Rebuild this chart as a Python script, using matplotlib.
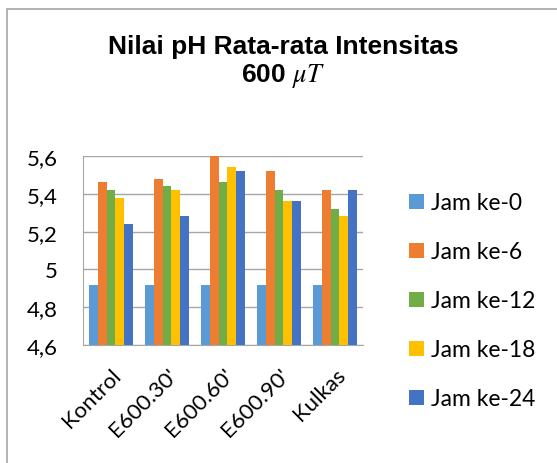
import matplotlib.pyplot as plt
import numpy as np
from matplotlib.patches import Rectangle
from matplotlib.ticker import FuncFormatter, MultipleLocator

categories = ["Kontrol", "E600.30'", "E600.60'", "E600.90'", "Kulkas"]
series_names = ["Jam ke-0", "Jam ke-6", "Jam ke-12", "Jam ke-18", "Jam ke-24"]
jam_0 = [4.92, 4.92, 4.92, 4.92, 4.92]
jam_6 = [5.46, 5.48, 5.60, 5.52, 5.42]
jam_12 = [5.42, 5.44, 5.46, 5.42, 5.32]
jam_18 = [5.38, 5.42, 5.54, 5.36, 5.28]
jam_24 = [5.24, 5.28, 5.52, 5.36, 5.42]

COLORS = ["#5B9BD5", "#ED7D31", "#70AD47", "#FFC000", "#4472C4"]
FONT = "Lato"
plt.rcParams["mathtext.fontset"] = "stix"

fig = plt.figure(figsize=(5.57, 4.64), dpi=100)
W, H = 557, 464
ax = fig.add_axes([83 / W, 1 - 346 / H, 280 / W, 189 / H])

# chart area frame (only top/left visible in the crop)
fig.patches.append(Rectangle((6.5 / W, -0.1), 1.2, 1 - 9.5 / H + 0.1,
                             transform=fig.transFigure, fill=False,
                             edgecolor="#A6A6A6", linewidth=1.2))

x = np.arange(len(categories))
width = 0.155
all_series = [jam_0, jam_6, jam_12, jam_18, jam_24]
for i, (vals, name) in enumerate(zip(all_series, series_names)):
    ax.bar(x + (i - 2) * width, vals, width, bottom=0, color=COLORS[i],
           label=name, zorder=3)

ax.set_xlim(-0.5, len(categories) - 0.5)
ax.set_ylim(4.6, 5.6)
ax.yaxis.set_major_locator(MultipleLocator(0.2))
ax.yaxis.set_major_formatter(FuncFormatter(lambda v, p: ("%g" % round(v, 2)).replace(".", ",")))
ax.grid(axis="y", color="#A6A6A6", linewidth=1.0, zorder=0)
ax.tick_params(axis="y", length=0, pad=18, labelsize=16)
ax.tick_params(axis="x", length=0, pad=14)
for lbl in ax.get_yticklabels():
    lbl.set_fontfamily(FONT)

ax.set_xticks(x)
ax.set_xticklabels(categories, rotation=45, ha="right", va="top",
                   rotation_mode="anchor", fontsize=16, fontfamily=FONT)

for side in ["top", "right"]:
    ax.spines[side].set_visible(False)
ax.spines["left"].set_color("#A6A6A6")
ax.spines["bottom"].set_color("#A6A6A6")

fig.text(283 / W, 1 - 47 / H, "Nilai pH Rata-rata Intensitas", ha="center", va="center",
         fontsize=19, fontweight="bold", fontfamily="Liberation Sans")
fig.text(283 / W, 1 - 76 / H, r"600 $\mu T$", ha="center", va="center",
         fontsize=19, fontweight="bold", fontfamily="Liberation Sans")

fig.legend(loc="upper left", bbox_to_anchor=(398 / W, 1 - 182 / H), frameon=False,
           prop={"family": FONT, "size": 16.5}, handlelength=0.65, handleheight=0.65,
           handletextpad=0.3, labelspacing=1.22, borderpad=0)

fig.savefig("out.png", dpi=100)
